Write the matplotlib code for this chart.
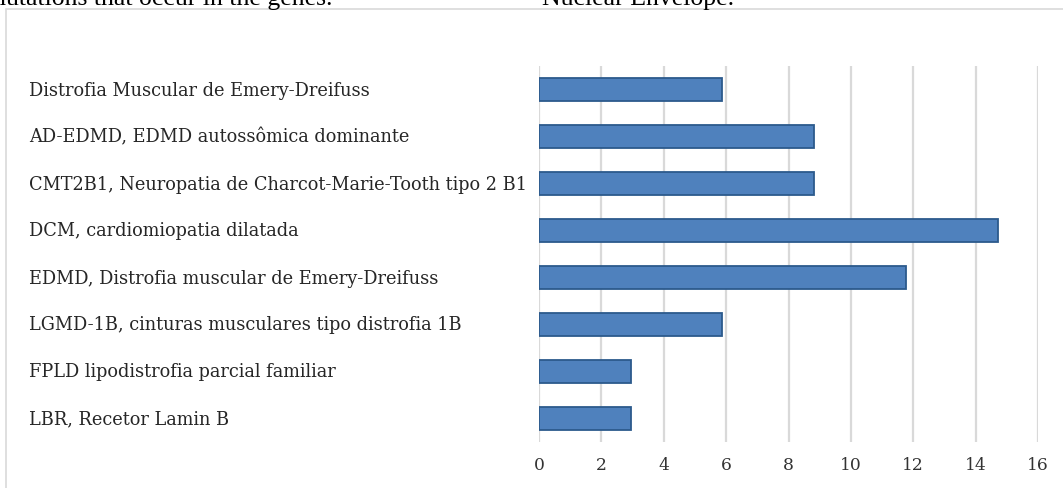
import matplotlib.pyplot as plt
import matplotlib.transforms as mtransforms
from matplotlib.patches import Rectangle

# data (top to bottom)
categories = [
    'Distrofia Muscular de Emery-Dreifuss',
    'AD-EDMD, EDMD autossômica dominante',
    'CMT2B1, Neuropatia de Charcot-Marie-Tooth tipo 2 B1',
    'DCM, cardiomiopatia dilatada',
    'EDMD, Distrofia muscular de Emery-Dreifuss',
    'LGMD-1B, cinturas musculares tipo distrofia 1B',
    'FPLD lipodistrofia parcial familiar',
    'LBR, Recetor Lamin B',
]
values = [5.88, 8.82, 8.82, 14.71, 11.76, 5.88, 2.94, 2.94]
x_ticks = [0, 2, 4, 6, 8, 10, 12, 14, 16]

W, H = 1063, 489
fig = plt.figure(figsize=(W / 100, H / 100), dpi=100)

# surrounding frame of the chart object
fig.patches.append(Rectangle((6 / W, -0.1), 1.2, 1 - 10 / H + 0.1,
                             transform=fig.transFigure, fill=False,
                             edgecolor='#D9D9D9', linewidth=1.2))

# document text above the chart (cut by the top edge in the original)
fig.text(332 / W, 1 - 5 / H, 'mutations that occur in the genes.', fontsize=18.5,
         family='Liberation Serif', va='baseline', ha='right')
fig.text(542 / W, 1 - 5 / H, 'Nuclear Envelope.', fontsize=18.5,
         family='Liberation Serif', va='baseline', ha='left')

ax = fig.add_axes([539 / W, 1 - 443 / H, (1038 - 539) / W, (443 - 67) / H])

ypos = list(range(len(categories)))
ax.barh(ypos, values, height=0.51, color='#4F81BD', edgecolor='#2C5A8C',
        linewidth=1.3, zorder=3)

ax.set_xlim(0, 16)
ax.set_ylim(len(categories) - 0.5, -0.5)
ax.set_xticks(x_ticks)
ax.set_xticklabels([str(t) for t in x_ticks], family='DejaVu Serif', fontsize=12.3,
                   color='#333333')
ax.tick_params(axis='x', length=0, pad=10)
ax.set_yticks([])
ax.grid(axis='x', color='#D9D9D9', linewidth=1.6, zorder=0)
for s in ax.spines.values():
    s.set_visible(False)

# category labels, left aligned near the frame
trans = mtransforms.blended_transform_factory(fig.transFigure, ax.transData)
for y, name in zip(ypos, categories):
    ax.text(29 / W, y, name, transform=trans, ha='left', va='center',
            family='DejaVu Serif', fontsize=12.75, color='#262626')

fig.savefig('out.png', dpi=100)
